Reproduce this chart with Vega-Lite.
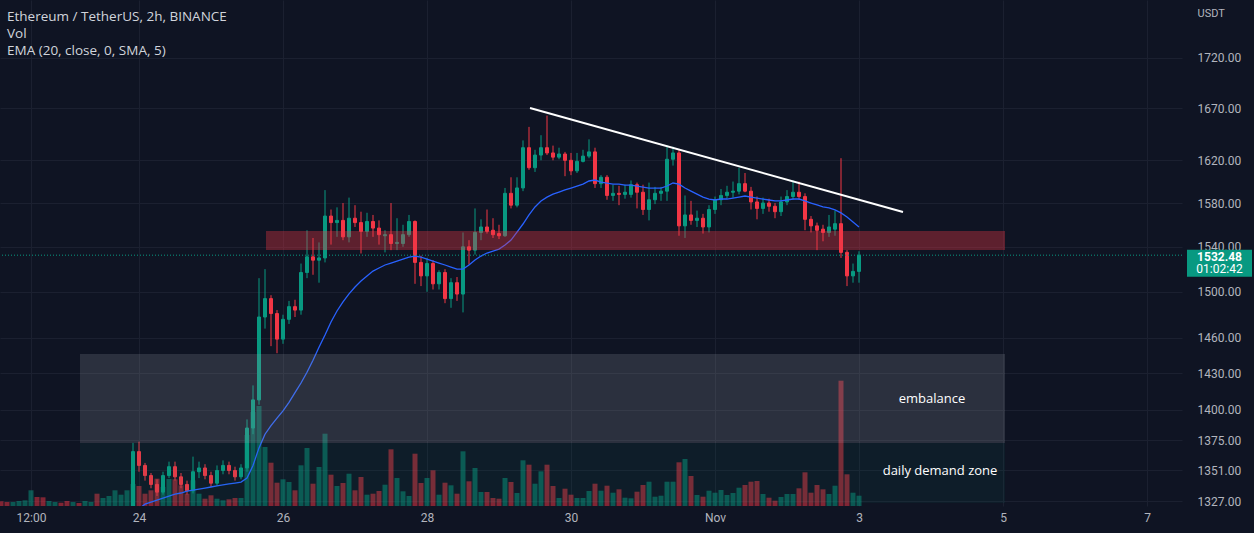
{
  "$schema": "https://vega.github.io/schema/vega-lite/v6.json",
  "width": 1182,
  "height": 506,
  "autosize": {"type": "none"},
  "padding": {"left": 0, "top": 0, "right": 72, "bottom": 27},
  "background": "#0f1423",
  "config": {
    "view": {"stroke": null},
    "font": "Roboto",
    "axis": {"labelColor": "#b2b5be", "labelFontSize": 12, "labelFont": "Roboto", "gridColor": "#1b2030", "gridWidth": 1, "domain": false, "ticks": false, "tickSize": 0}
  },
  "title": {
    "text": "Ethereum / TetherUS, 2h, BINANCE",
    "subtitle": ["Vol", "EMA (20, close, 0, SMA, 5)"],
    "anchor": "start",
    "orient": "top",
    "frame": "group",
    "offset": -57,
    "dx": 7,
    "font": "Open Sans",
    "fontSize": 13.5,
    "fontWeight": "normal",
    "color": "#d1d4dc",
    "subtitleFont": "Open Sans",
    "subtitleFontSize": 13.5,
    "subtitleColor": "#d1d4dc",
    "subtitlePadding": 3,
    "subtitleLineHeight": 17
  },
  "datasets": {
    "bars": [
      {"t":"2022-10-22T02:00:00Z","o":1303,"h":1305,"l":1299,"c":1300,"v":4.7},
      {"t":"2022-10-22T04:00:00Z","o":1300,"h":1302,"l":1297,"c":1298,"v":4},
      {"t":"2022-10-22T06:00:00Z","o":1298,"h":1302,"l":1297,"c":1301,"v":4},
      {"t":"2022-10-22T08:00:00Z","o":1301,"h":1304,"l":1300,"c":1303,"v":5},
      {"t":"2022-10-22T10:00:00Z","o":1303,"h":1307,"l":1302,"c":1306,"v":5.7},
      {"t":"2022-10-22T12:00:00Z","o":1306,"h":1316,"l":1304,"c":1312,"v":15.7},
      {"t":"2022-10-22T14:00:00Z","o":1312,"h":1314,"l":1305,"c":1307,"v":9},
      {"t":"2022-10-22T16:00:00Z","o":1307,"h":1309,"l":1302,"c":1304,"v":8.7},
      {"t":"2022-10-22T18:00:00Z","o":1304,"h":1307,"l":1303,"c":1306,"v":5},
      {"t":"2022-10-22T20:00:00Z","o":1306,"h":1308,"l":1304,"c":1307,"v":4},
      {"t":"2022-10-22T22:00:00Z","o":1307,"h":1308,"l":1304,"c":1305,"v":3.3},
      {"t":"2022-10-23T00:00:00Z","o":1305,"h":1307,"l":1301,"c":1302,"v":5},
      {"t":"2022-10-23T02:00:00Z","o":1302,"h":1305,"l":1301,"c":1304,"v":4},
      {"t":"2022-10-23T04:00:00Z","o":1304,"h":1305,"l":1302,"c":1303,"v":3},
      {"t":"2022-10-23T06:00:00Z","o":1303,"h":1307,"l":1302,"c":1306,"v":5},
      {"t":"2022-10-23T08:00:00Z","o":1306,"h":1308,"l":1304,"c":1307,"v":4},
      {"t":"2022-10-23T10:00:00Z","o":1307,"h":1309,"l":1296,"c":1299,"v":12.3},
      {"t":"2022-10-23T12:00:00Z","o":1299,"h":1304,"l":1297,"c":1303,"v":8},
      {"t":"2022-10-23T14:00:00Z","o":1303,"h":1308,"l":1301,"c":1307,"v":10},
      {"t":"2022-10-23T16:00:00Z","o":1307,"h":1315,"l":1305,"c":1313,"v":15.7},
      {"t":"2022-10-23T18:00:00Z","o":1313,"h":1318,"l":1310,"c":1316,"v":11.3,"ema":1310},
      {"t":"2022-10-23T20:00:00Z","o":1316,"h":1320,"l":1313,"c":1318,"v":15.7,"ema":1312},
      {"t":"2022-10-23T22:00:00Z","o":1318,"h":1373,"l":1316,"c":1366,"v":22,"ema":1316},
      {"t":"2022-10-24T00:00:00Z","o":1366,"h":1374,"l":1350,"c":1355,"v":20,"ema":1321},
      {"t":"2022-10-24T02:00:00Z","o":1355,"h":1357,"l":1343,"c":1347,"v":12.3,"ema":1324.6},
      {"t":"2022-10-24T04:00:00Z","o":1347,"h":1349,"l":1337,"c":1340,"v":15.7,"ema":1326.2},
      {"t":"2022-10-24T06:00:00Z","o":1340,"h":1344,"l":1331,"c":1334,"v":27.3,"ema":1327.8},
      {"t":"2022-10-24T08:00:00Z","o":1334,"h":1350,"l":1332,"c":1347,"v":19,"ema":1329.4},
      {"t":"2022-10-24T10:00:00Z","o":1347,"h":1358,"l":1345,"c":1354,"v":27,"ema":1330.9},
      {"t":"2022-10-24T12:00:00Z","o":1354,"h":1358,"l":1343,"c":1346,"v":26.7,"ema":1332.5},
      {"t":"2022-10-24T14:00:00Z","o":1346,"h":1349,"l":1337,"c":1340,"v":20.7,"ema":1333.3},
      {"t":"2022-10-24T16:00:00Z","o":1340,"h":1343,"l":1332,"c":1335,"v":12.3,"ema":1334.8},
      {"t":"2022-10-24T18:00:00Z","o":1335,"h":1362,"l":1333,"c":1350,"v":25.7,"ema":1335.6},
      {"t":"2022-10-24T20:00:00Z","o":1350,"h":1358,"l":1345,"c":1353,"v":12.3,"ema":1336.4},
      {"t":"2022-10-24T22:00:00Z","o":1353,"h":1356,"l":1344,"c":1347,"v":7.3,"ema":1337.2},
      {"t":"2022-10-25T00:00:00Z","o":1347,"h":1350,"l":1338,"c":1341,"v":10.7,"ema":1338},
      {"t":"2022-10-25T02:00:00Z","o":1341,"h":1355,"l":1339,"c":1351,"v":7.3,"ema":1338.8},
      {"t":"2022-10-25T04:00:00Z","o":1351,"h":1359,"l":1348,"c":1355,"v":5.7,"ema":1339.6},
      {"t":"2022-10-25T06:00:00Z","o":1355,"h":1358,"l":1348,"c":1351,"v":6.7,"ema":1340.4},
      {"t":"2022-10-25T08:00:00Z","o":1351,"h":1354,"l":1343,"c":1346,"v":8,"ema":1341.1},
      {"t":"2022-10-25T10:00:00Z","o":1346,"h":1356,"l":1344,"c":1353,"v":8,"ema":1341.9},
      {"t":"2022-10-25T12:00:00Z","o":1353,"h":1392,"l":1350,"c":1385,"v":71,"ema":1345.1},
      {"t":"2022-10-25T14:00:00Z","o":1385,"h":1420,"l":1380,"c":1408,"v":94,"ema":1355},
      {"t":"2022-10-25T16:00:00Z","o":1408,"h":1512,"l":1404,"c":1478,"v":100,"ema":1369},
      {"t":"2022-10-25T18:00:00Z","o":1478,"h":1520,"l":1468,"c":1494,"v":59,"ema":1380},
      {"t":"2022-10-25T20:00:00Z","o":1494,"h":1497,"l":1453,"c":1481,"v":43.3,"ema":1387},
      {"t":"2022-10-25T22:00:00Z","o":1481,"h":1484,"l":1447,"c":1459,"v":23.3,"ema":1393},
      {"t":"2022-10-26T00:00:00Z","o":1459,"h":1480,"l":1455,"c":1476,"v":26.7,"ema":1399},
      {"t":"2022-10-26T02:00:00Z","o":1476,"h":1492,"l":1472,"c":1487,"v":24,"ema":1406},
      {"t":"2022-10-26T04:00:00Z","o":1487,"h":1493,"l":1478,"c":1484,"v":15.7,"ema":1414},
      {"t":"2022-10-26T06:00:00Z","o":1484,"h":1525,"l":1480,"c":1517,"v":40.7,"ema":1422},
      {"t":"2022-10-26T08:00:00Z","o":1517,"h":1555,"l":1512,"c":1531,"v":58,"ema":1431},
      {"t":"2022-10-26T10:00:00Z","o":1531,"h":1548,"l":1515,"c":1528,"v":22.3,"ema":1441},
      {"t":"2022-10-26T12:00:00Z","o":1528,"h":1544,"l":1508,"c":1530,"v":39,"ema":1452},
      {"t":"2022-10-26T14:00:00Z","o":1530,"h":1592,"l":1526,"c":1568,"v":72.3,"ema":1462.5},
      {"t":"2022-10-26T16:00:00Z","o":1568,"h":1574,"l":1542,"c":1562,"v":31.3,"ema":1473.7},
      {"t":"2022-10-26T18:00:00Z","o":1562,"h":1576,"l":1549,"c":1564,"v":20,"ema":1483.2},
      {"t":"2022-10-26T20:00:00Z","o":1564,"h":1580,"l":1546,"c":1549,"v":23,"ema":1491.1},
      {"t":"2022-10-26T22:00:00Z","o":1549,"h":1585,"l":1544,"c":1566,"v":32.3,"ema":1498.1},
      {"t":"2022-10-27T00:00:00Z","o":1566,"h":1578,"l":1558,"c":1562,"v":15.7,"ema":1504.2},
      {"t":"2022-10-27T02:00:00Z","o":1562,"h":1572,"l":1534,"c":1554,"v":29,"ema":1509.5},
      {"t":"2022-10-27T04:00:00Z","o":1554,"h":1571,"l":1549,"c":1563,"v":11.3,"ema":1513.9},
      {"t":"2022-10-27T06:00:00Z","o":1563,"h":1569,"l":1549,"c":1557,"v":12.3,"ema":1518.3},
      {"t":"2022-10-27T08:00:00Z","o":1557,"h":1564,"l":1542,"c":1551,"v":15,"ema":1521},
      {"t":"2022-10-27T10:00:00Z","o":1550,"h":1555,"l":1535,"c":1551,"v":21.3,"ema":1523.7},
      {"t":"2022-10-27T12:00:00Z","o":1551,"h":1580,"l":1537,"c":1543,"v":56.7,"ema":1525.4},
      {"t":"2022-10-27T14:00:00Z","o":1543,"h":1566,"l":1537,"c":1544,"v":28,"ema":1527.2},
      {"t":"2022-10-27T16:00:00Z","o":1543,"h":1560,"l":1540,"c":1551,"v":14.7,"ema":1529},
      {"t":"2022-10-27T18:00:00Z","o":1551,"h":1569,"l":1549,"c":1563,"v":10,"ema":1530.8},
      {"t":"2022-10-27T20:00:00Z","o":1563,"h":1564,"l":1507,"c":1526,"v":52.3,"ema":1531.7},
      {"t":"2022-10-27T22:00:00Z","o":1526,"h":1532,"l":1505,"c":1514,"v":23,"ema":1530.8},
      {"t":"2022-10-28T00:00:00Z","o":1514,"h":1530,"l":1500,"c":1525,"v":28,"ema":1529},
      {"t":"2022-10-28T02:00:00Z","o":1525,"h":1528,"l":1502,"c":1507,"v":35.7,"ema":1527.2},
      {"t":"2022-10-28T04:00:00Z","o":1507,"h":1519,"l":1502,"c":1517,"v":11.3,"ema":1525.4},
      {"t":"2022-10-28T06:00:00Z","o":1517,"h":1520,"l":1490,"c":1494,"v":23.3,"ema":1523.7},
      {"t":"2022-10-28T08:00:00Z","o":1494,"h":1512,"l":1486,"c":1508,"v":20.7,"ema":1521.9},
      {"t":"2022-10-28T10:00:00Z","o":1508,"h":1513,"l":1492,"c":1498,"v":12.3,"ema":1520.1},
      {"t":"2022-10-28T12:00:00Z","o":1498,"h":1553,"l":1482,"c":1540,"v":54.7,"ema":1520.1},
      {"t":"2022-10-28T14:00:00Z","o":1540,"h":1546,"l":1524,"c":1537,"v":24.7,"ema":1523.7},
      {"t":"2022-10-28T16:00:00Z","o":1537,"h":1575,"l":1533,"c":1553,"v":38,"ema":1528.1},
      {"t":"2022-10-28T18:00:00Z","o":1553,"h":1565,"l":1546,"c":1558,"v":14,"ema":1531.7},
      {"t":"2022-10-28T20:00:00Z","o":1558,"h":1574,"l":1552,"c":1554,"v":14,"ema":1534.4},
      {"t":"2022-10-28T22:00:00Z","o":1555,"h":1566,"l":1548,"c":1551,"v":8,"ema":1536.2},
      {"t":"2022-10-29T00:00:00Z","o":1552,"h":1560,"l":1547,"c":1550,"v":7.3,"ema":1538},
      {"t":"2022-10-29T02:00:00Z","o":1550,"h":1594,"l":1549,"c":1589,"v":28,"ema":1541.6},
      {"t":"2022-10-29T04:00:00Z","o":1589,"h":1604,"l":1575,"c":1578,"v":24,"ema":1546.1},
      {"t":"2022-10-29T06:00:00Z","o":1578,"h":1604,"l":1576,"c":1594,"v":13,"ema":1553.4},
      {"t":"2022-10-29T08:00:00Z","o":1594,"h":1639,"l":1591,"c":1632,"v":45.7,"ema":1560.7},
      {"t":"2022-10-29T10:00:00Z","o":1632,"h":1652,"l":1611,"c":1613,"v":41.3,"ema":1569},
      {"t":"2022-10-29T12:00:00Z","o":1613,"h":1630,"l":1609,"c":1625,"v":22.3,"ema":1576.4},
      {"t":"2022-10-29T14:00:00Z","o":1625,"h":1644,"l":1620,"c":1632,"v":34.7,"ema":1581.9},
      {"t":"2022-10-29T16:00:00Z","o":1632,"h":1663,"l":1625,"c":1627,"v":41.3,"ema":1585.5},
      {"t":"2022-10-29T18:00:00Z","o":1627,"h":1634,"l":1620,"c":1623,"v":20,"ema":1588.3},
      {"t":"2022-10-29T20:00:00Z","o":1623,"h":1632,"l":1621,"c":1626,"v":8,"ema":1590.2},
      {"t":"2022-10-29T22:00:00Z","o":1626,"h":1628,"l":1605,"c":1620,"v":17.3,"ema":1592.1},
      {"t":"2022-10-30T00:00:00Z","o":1620,"h":1627,"l":1606,"c":1610,"v":11.3,"ema":1593.9},
      {"t":"2022-10-30T02:00:00Z","o":1610,"h":1627,"l":1608,"c":1619,"v":8,"ema":1595.8},
      {"t":"2022-10-30T04:00:00Z","o":1619,"h":1630,"l":1618,"c":1624,"v":8,"ema":1597.6},
      {"t":"2022-10-30T06:00:00Z","o":1624,"h":1640,"l":1622,"c":1628,"v":15,"ema":1600.5},
      {"t":"2022-10-30T08:00:00Z","o":1628,"h":1632,"l":1594,"c":1598,"v":22.3,"ema":1601.4},
      {"t":"2022-10-30T10:00:00Z","o":1598,"h":1606,"l":1594,"c":1604,"v":15.3,"ema":1599.5},
      {"t":"2022-10-30T12:00:00Z","o":1604,"h":1606,"l":1583,"c":1587,"v":20.3,"ema":1598.6},
      {"t":"2022-10-30T14:00:00Z","o":1587,"h":1597,"l":1582,"c":1589,"v":13.3,"ema":1597.6},
      {"t":"2022-10-30T16:00:00Z","o":1589,"h":1596,"l":1578,"c":1588,"v":16.7,"ema":1597.6},
      {"t":"2022-10-30T18:00:00Z","o":1588,"h":1597,"l":1584,"c":1590,"v":8.3,"ema":1596.7},
      {"t":"2022-10-30T20:00:00Z","o":1588,"h":1601,"l":1585,"c":1597,"v":7.7,"ema":1596.7},
      {"t":"2022-10-30T22:00:00Z","o":1597,"h":1599,"l":1575,"c":1590,"v":14.3,"ema":1595.8},
      {"t":"2022-10-31T00:00:00Z","o":1590,"h":1597,"l":1569,"c":1574,"v":21,"ema":1594.8},
      {"t":"2022-10-31T02:00:00Z","o":1574,"h":1599,"l":1564,"c":1583,"v":24.3,"ema":1593.9},
      {"t":"2022-10-31T04:00:00Z","o":1583,"h":1595,"l":1579,"c":1589,"v":9.3,"ema":1593.9},
      {"t":"2022-10-31T06:00:00Z","o":1589,"h":1595,"l":1582,"c":1591,"v":10.3,"ema":1593.9},
      {"t":"2022-10-31T08:00:00Z","o":1591,"h":1634,"l":1582,"c":1621,"v":24.3,"ema":1595.8},
      {"t":"2022-10-31T10:00:00Z","o":1621,"h":1633,"l":1615,"c":1627,"v":24.3,"ema":1598.6},
      {"t":"2022-10-31T12:00:00Z","o":1627,"h":1630,"l":1550,"c":1559,"v":43.7,"ema":1597.6},
      {"t":"2022-10-31T14:00:00Z","o":1559,"h":1587,"l":1548,"c":1569,"v":47,"ema":1593.9},
      {"t":"2022-10-31T16:00:00Z","o":1569,"h":1582,"l":1560,"c":1564,"v":30,"ema":1591.1},
      {"t":"2022-10-31T18:00:00Z","o":1564,"h":1573,"l":1558,"c":1566,"v":11,"ema":1588.3},
      {"t":"2022-10-31T20:00:00Z","o":1566,"h":1570,"l":1552,"c":1558,"v":9.3,"ema":1585.5},
      {"t":"2022-10-31T22:00:00Z","o":1558,"h":1578,"l":1553,"c":1574,"v":15.3,"ema":1583.7},
      {"t":"2022-11-01T00:00:00Z","o":1574,"h":1586,"l":1570,"c":1583,"v":13.3,"ema":1582.8},
      {"t":"2022-11-01T02:00:00Z","o":1583,"h":1593,"l":1578,"c":1587,"v":16,"ema":1583.7},
      {"t":"2022-11-01T04:00:00Z","o":1587,"h":1596,"l":1584,"c":1590,"v":11,"ema":1583.7},
      {"t":"2022-11-01T06:00:00Z","o":1590,"h":1600,"l":1585,"c":1591,"v":13,"ema":1584.6},
      {"t":"2022-11-01T08:00:00Z","o":1591,"h":1613,"l":1588,"c":1598,"v":18.3,"ema":1585.5},
      {"t":"2022-11-01T10:00:00Z","o":1598,"h":1608,"l":1590,"c":1591,"v":21,"ema":1586.5},
      {"t":"2022-11-01T12:00:00Z","o":1591,"h":1595,"l":1574,"c":1581,"v":24.3,"ema":1585.5},
      {"t":"2022-11-01T14:00:00Z","o":1581,"h":1586,"l":1565,"c":1575,"v":25,"ema":1584.6},
      {"t":"2022-11-01T16:00:00Z","o":1575,"h":1585,"l":1570,"c":1580,"v":12,"ema":1583.7},
      {"t":"2022-11-01T18:00:00Z","o":1580,"h":1584,"l":1572,"c":1577,"v":8.3,"ema":1582.8},
      {"t":"2022-11-01T20:00:00Z","o":1577,"h":1580,"l":1566,"c":1572,"v":5.3,"ema":1581.9},
      {"t":"2022-11-01T22:00:00Z","o":1572,"h":1586,"l":1568,"c":1581,"v":9,"ema":1581.9},
      {"t":"2022-11-02T00:00:00Z","o":1581,"h":1592,"l":1578,"c":1586,"v":12,"ema":1582.8},
      {"t":"2022-11-02T02:00:00Z","o":1586,"h":1601,"l":1583,"c":1590,"v":12,"ema":1583.7},
      {"t":"2022-11-02T04:00:00Z","o":1590,"h":1600,"l":1583,"c":1586,"v":17.7,"ema":1583.7},
      {"t":"2022-11-02T06:00:00Z","o":1586,"h":1589,"l":1555,"c":1565,"v":33.7,"ema":1581.9},
      {"t":"2022-11-02T08:00:00Z","o":1565,"h":1568,"l":1553,"c":1559,"v":13.3,"ema":1580},
      {"t":"2022-11-02T10:00:00Z","o":1559,"h":1562,"l":1537,"c":1555,"v":21,"ema":1578.2},
      {"t":"2022-11-02T12:00:00Z","o":1556,"h":1560,"l":1545,"c":1553,"v":16.7,"ema":1576.4},
      {"t":"2022-11-02T14:00:00Z","o":1553,"h":1569,"l":1549,"c":1558,"v":12,"ema":1575.5},
      {"t":"2022-11-02T16:00:00Z","o":1556,"h":1573,"l":1550,"c":1561,"v":20.3,"ema":1573.6},
      {"t":"2022-11-02T18:00:00Z","o":1561,"h":1622,"l":1530,"c":1535,"v":125.3,"ema":1570.9},
      {"t":"2022-11-02T20:00:00Z","o":1535,"h":1537,"l":1505,"c":1514,"v":31.7,"ema":1567.2},
      {"t":"2022-11-02T22:00:00Z","o":1514,"h":1525,"l":1508,"c":1518,"v":13.3,"ema":1562.6},
      {"t":"2022-11-03T00:00:00Z","o":1518,"h":1536,"l":1508,"c":1532.48,"v":10.3,"ema":1558}
    ],
    "zones": [
      {"t1":"2022-10-23T04:20:00Z","t2":"2022-11-05T00:40:00Z","p1":1325.5,"p2":1372.9,"zone":"daily demand zone"},
      {"t1":"2022-10-23T04:20:00Z","t2":"2022-11-05T00:40:00Z","p1":1372.9,"p2":1446.3,"zone":"embalance"},
      {"t1":"2022-10-25T18:20:00Z","t2":"2022-11-05T00:40:00Z","p1":1537.1,"p2":1554.3,"zone":"resistance"}
    ],
    "trend": [
      {"t":"2022-10-29T10:20:00Z","p":1670.4},
      {"t":"2022-11-03T14:40:00Z","p":1571.7}
    ],
    "notes": [
      {"t":"2022-11-04T00:20:00Z","p":1408.7,"label":"embalance"},
      {"t":"2022-11-04T03:00:00Z","p":1350.6,"label":"daily demand zone"}
    ],
    "last": [
      {"t":"2022-11-08T00:10:00Z","p":1532.48,"timer":"01:02:42"}
    ]
  },
  "layer": [
    {
      "data": {"name": "bars"},
      "mark": {"type": "bar", "size": 5, "opacity": 0.5, "clip": true},
      "encoding": {
        "x": {"field": "t", "type": "temporal", "title": null,
          "scale": {"type": "utc", "nice": false, "padding": 0, "domain": [{"year":2022,"month":10,"date":22,"hours":1,"minutes":40,"utc":true},{"year":2022,"month":11,"date":7,"hours":11,"minutes":40,"utc":true}]},
          "axis": {"grid": true, "labelPadding": 6, "labelFontSize": 12, "labelOverlap": false, "title": null,
            "values": [{"year":2022,"month":10,"date":22,"hours":12,"utc":true},{"year":2022,"month":10,"date":24,"utc":true},{"year":2022,"month":10,"date":26,"utc":true},{"year":2022,"month":10,"date":28,"utc":true},{"year":2022,"month":10,"date":30,"utc":true},{"year":2022,"month":11,"date":1,"utc":true},{"year":2022,"month":11,"date":3,"utc":true},{"year":2022,"month":11,"date":5,"utc":true},{"year":2022,"month":11,"date":7,"utc":true}],
            "labelExpr": "utcdate(datum.value) == 1 ? 'Nov' : (utchours(datum.value) == 12 ? '12:00' : '' + utcdate(datum.value))"}},
        "y": {"field": "v", "type": "quantitative", "title": null, "scale": {"domain": [0, 506], "nice": false, "zero": true}, "axis": null},
        "color": {"condition": {"test": "datum.c >= datum.o", "value": "#089981"}, "value": "#f23645"}
      }
    },
    {
      "layer": [
        {
          "data": {"name": "bars"},
          "mark": {"type": "rule", "strokeWidth": 1, "clip": true},
          "encoding": {
            "x": {"field": "t", "type": "temporal", "title": null,
              "scale": {"type": "utc", "nice": false, "padding": 0, "domain": [{"year":2022,"month":10,"date":22,"hours":1,"minutes":40,"utc":true},{"year":2022,"month":11,"date":7,"hours":11,"minutes":40,"utc":true}]}},
            "y": {"field": "l", "type": "quantitative", "title": "USDT",
              "scale": {"type": "log", "domain": [1323.2, 1779.4], "nice": false, "zero": false},
              "axis": {"orient": "right", "grid": true, "labelPadding": 15, "labelFontSize": 12, "format": ".2f", "labelOverlap": false, "labelBound": false,
                "values": [1327, 1351, 1375, 1400, 1430, 1460, 1500, 1540, 1580, 1620, 1670, 1720],
                "title": "USDT", "titleAngle": 0, "titleX": 15, "titleY": 13, "titleAlign": "left", "titleBaseline": "middle", "titleColor": "#b2b5be", "titleFontWeight": "normal", "titleFontSize": 11, "titleFont": "Roboto"}},
            "y2": {"field": "h"},
            "color": {"condition": {"test": "datum.c >= datum.o", "value": "#089981"}, "value": "#f23645"}
          }
        },
        {
          "data": {"name": "bars"},
          "mark": {"type": "bar", "size": 3, "strokeWidth": 1, "clip": true},
          "encoding": {
            "x": {"field": "t", "type": "temporal", "title": null,
              "scale": {"type": "utc", "nice": false, "padding": 0, "domain": [{"year":2022,"month":10,"date":22,"hours":1,"minutes":40,"utc":true},{"year":2022,"month":11,"date":7,"hours":11,"minutes":40,"utc":true}]}},
            "y": {"field": "o", "type": "quantitative", "title": "USDT",
              "scale": {"type": "log", "domain": [1323.2, 1779.4], "nice": false, "zero": false}},
            "y2": {"field": "c"},
            "color": {"condition": {"test": "datum.c >= datum.o", "value": "#089981"}, "value": "#f23645"},
            "stroke": {"condition": {"test": "datum.c >= datum.o", "value": "#089981"}, "value": "#f23645"}
          }
        },
        {
          "data": {"name": "bars"},
          "mark": {"type": "line", "color": "#2962ff", "strokeWidth": 1.3, "clip": true},
          "encoding": {
            "x": {"field": "t", "type": "temporal", "title": null,
              "scale": {"type": "utc", "nice": false, "padding": 0, "domain": [{"year":2022,"month":10,"date":22,"hours":1,"minutes":40,"utc":true},{"year":2022,"month":11,"date":7,"hours":11,"minutes":40,"utc":true}]}},
            "y": {"field": "ema", "type": "quantitative", "title": "USDT",
              "scale": {"type": "log", "domain": [1323.2, 1779.4], "nice": false, "zero": false}}
          }
        },
        {
          "data": {"name": "zones"},
          "mark": {"type": "rect", "clip": true},
          "encoding": {
            "x": {"field": "t1", "type": "temporal", "title": null,
              "scale": {"type": "utc", "nice": false, "padding": 0, "domain": [{"year":2022,"month":10,"date":22,"hours":1,"minutes":40,"utc":true},{"year":2022,"month":11,"date":7,"hours":11,"minutes":40,"utc":true}]}},
            "x2": {"field": "t2"},
            "y": {"field": "p1", "type": "quantitative", "title": "USDT",
              "scale": {"type": "log", "domain": [1323.2, 1779.4], "nice": false, "zero": false}},
            "y2": {"field": "p2"},
            "color": {"field": "zone", "type": "nominal", "legend": null,
              "scale": {"domain": ["daily demand zone", "embalance", "resistance"], "range": ["#0a8a74", "#9598a1", "#f23645"]}},
            "opacity": {"field": "zone", "type": "nominal", "legend": null,
              "scale": {"domain": ["daily demand zone", "embalance", "resistance"], "range": [0.08, 0.35, 0.22]}}
          }
        },
        {
          "data": {"name": "trend"},
          "mark": {"type": "line", "color": "#ffffff", "strokeWidth": 2, "clip": true},
          "encoding": {
            "x": {"field": "t", "type": "temporal", "title": null,
              "scale": {"type": "utc", "nice": false, "padding": 0, "domain": [{"year":2022,"month":10,"date":22,"hours":1,"minutes":40,"utc":true},{"year":2022,"month":11,"date":7,"hours":11,"minutes":40,"utc":true}]}},
            "y": {"field": "p", "type": "quantitative", "title": "USDT",
              "scale": {"type": "log", "domain": [1323.2, 1779.4], "nice": false, "zero": false}}
          }
        },
        {
          "data": {"name": "notes"},
          "mark": {"type": "text", "color": "#ffffff", "fontSize": 13, "font": "Open Sans", "align": "center", "baseline": "middle"},
          "encoding": {
            "x": {"field": "t", "type": "temporal", "title": null,
              "scale": {"type": "utc", "nice": false, "padding": 0, "domain": [{"year":2022,"month":10,"date":22,"hours":1,"minutes":40,"utc":true},{"year":2022,"month":11,"date":7,"hours":11,"minutes":40,"utc":true}]}},
            "y": {"field": "p", "type": "quantitative", "title": "USDT",
              "scale": {"type": "log", "domain": [1323.2, 1779.4], "nice": false, "zero": false}},
            "text": {"field": "label"}
          }
        },
        {
          "data": {"name": "last"},
          "mark": {"type": "rule", "color": "#089981", "strokeWidth": 1, "strokeDash": [1, 2]},
          "encoding": {
            "y": {"field": "p", "type": "quantitative", "title": "USDT",
              "scale": {"type": "log", "domain": [1323.2, 1779.4], "nice": false, "zero": false}}
          }
        },
        {
          "data": {"name": "last"},
          "mark": {"type": "point", "filled": true, "opacity": 1, "color": "#089981", "size": 4225, "shape": "M-1,-0.17H1V0.66H-1Z"},
          "encoding": {
            "x": {"field": "t", "type": "temporal", "title": null,
              "scale": {"type": "utc", "nice": false, "padding": 0, "domain": [{"year":2022,"month":10,"date":22,"hours":1,"minutes":40,"utc":true},{"year":2022,"month":11,"date":7,"hours":11,"minutes":40,"utc":true}]}},
            "y": {"field": "p", "type": "quantitative", "title": "USDT",
              "scale": {"type": "log", "domain": [1323.2, 1779.4], "nice": false, "zero": false}}
          }
        },
        {
          "data": {"name": "last"},
          "mark": {"type": "text", "color": "#ffffff", "fontSize": 12, "fontWeight": "bold", "font": "Roboto", "align": "center", "baseline": "middle", "dy": 2},
          "encoding": {
            "x": {"field": "t", "type": "temporal", "title": null,
              "scale": {"type": "utc", "nice": false, "padding": 0, "domain": [{"year":2022,"month":10,"date":22,"hours":1,"minutes":40,"utc":true},{"year":2022,"month":11,"date":7,"hours":11,"minutes":40,"utc":true}]}},
            "y": {"field": "p", "type": "quantitative", "title": "USDT",
              "scale": {"type": "log", "domain": [1323.2, 1779.4], "nice": false, "zero": false}},
            "text": {"field": "p", "type": "quantitative", "format": ".2f"}
          }
        },
        {
          "data": {"name": "last"},
          "mark": {"type": "text", "color": "#ffffff", "fontSize": 12, "font": "Roboto", "align": "center", "baseline": "middle", "dy": 14},
          "encoding": {
            "x": {"field": "t", "type": "temporal", "title": null,
              "scale": {"type": "utc", "nice": false, "padding": 0, "domain": [{"year":2022,"month":10,"date":22,"hours":1,"minutes":40,"utc":true},{"year":2022,"month":11,"date":7,"hours":11,"minutes":40,"utc":true}]}},
            "y": {"field": "p", "type": "quantitative", "title": "USDT",
              "scale": {"type": "log", "domain": [1323.2, 1779.4], "nice": false, "zero": false}},
            "text": {"field": "timer"}
          }
        }
      ]
    }
  ],
  "resolve": {"scale": {"y": "independent"}}
}
